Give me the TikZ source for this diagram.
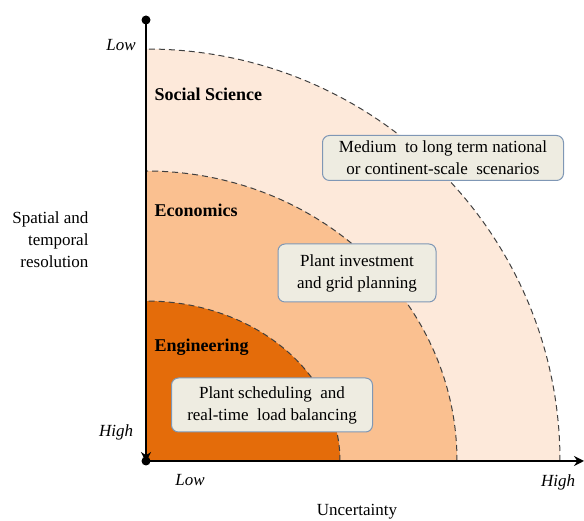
\documentclass[tikz,border=0pt]{standalone}
\usepackage{fontspec}
\setmainfont{Liberation Serif}
\usetikzlibrary{arrows.meta}
\definecolor{outerc}{HTML}{FDE9DA}
\definecolor{midc}{HTML}{FAC090}
\definecolor{innerc}{HTML}{E46C0A}
\definecolor{boxfill}{HTML}{EEECE1}
\definecolor{boxdraw}{HTML}{7F97B5}
\definecolor{dashc}{HTML}{404040}
\tikzset{
  x=1pt,y=1pt,
  infobox/.style={draw=boxdraw,line width=1pt,fill=boxfill,rounded corners=7pt,align=center,inner sep=0pt,font=\fontsize{17}{22}\selectfont},
  zone/.style={draw=dashc,line width=1pt,dash pattern=on 6pt off 4pt},
  zlabel/.style={anchor=west,font=\fontsize{18}{20}\selectfont\bfseries},
  axlabel/.style={font=\fontsize{17}{20}\selectfont\itshape},
  axis/.style={line width=2.8pt,-{Stealth[length=10pt,width=10pt]}},
}
\begin{document}
\begin{tikzpicture}
\useasboundingbox (0,0) rectangle (584,521);
\coordinate (O) at (146,60);
% zones
\fill[outerc] (O) -- (560,60) arc[start angle=0,end angle=90,x radius=414,y radius=412] -- cycle;
\draw[zone] (560,60) arc[start angle=0,end angle=90,x radius=414,y radius=412];
\fill[midc] (O) -- (457,60) arc[start angle=0,end angle=90,x radius=311,y radius=290] -- cycle;
\draw[zone] (457,60) arc[start angle=0,end angle=90,x radius=311,y radius=290];
\fill[innerc] (O) -- (340,60) arc[start angle=0,end angle=90,x radius=194,y radius=160] -- cycle;
\draw[zone] (340,60) arc[start angle=0,end angle=90,x radius=194,y radius=160];
% axes
\coordinate (T) at (146,501);
\coordinate (R) at (584,60);
\draw[axis] (T) -- (146,59);
\draw[axis] (O) -- (R);
\fill (T) circle[radius=4.5];
\fill (O) circle[radius=4.5];
% zone labels
\node[zlabel] (ss) at (151,427) {Social Science};
\node[zlabel] (ec) at (151,311) {Economics};
\node[zlabel] (en) at (151,174) {Engineering};
% boxes
\node[infobox,minimum width=241,minimum height=45] (b1) at (443,363) {Medium\ \ to long term national\\or continent-scale\ \ scenarios};
\node[infobox,minimum width=158,minimum height=58] (b2) at (357,248) {Plant investment\\and grid planning};
\node[infobox,minimum width=201,minimum height=54] (b3) at (272,116) {Plant scheduling\ \ and\\real-time\ \ load balancing};
% axis labels
\node[axlabel] (lowy) at (121,476) {Low};
\node[axlabel] (highy) at (116,89) {High};
\node[axlabel] (lowx) at (190,41) {Low};
\node[axlabel] (highx) at (558,39) {High};
\node[font=\fontsize{17}{20}\selectfont] (unc) at (357,9) {Uncertainty};
\node[font=\fontsize{17}{22}\selectfont,align=right,anchor=east] (res) at (92,281) {Spatial and\\temporal\\resolution};
\end{tikzpicture}
\end{document}
